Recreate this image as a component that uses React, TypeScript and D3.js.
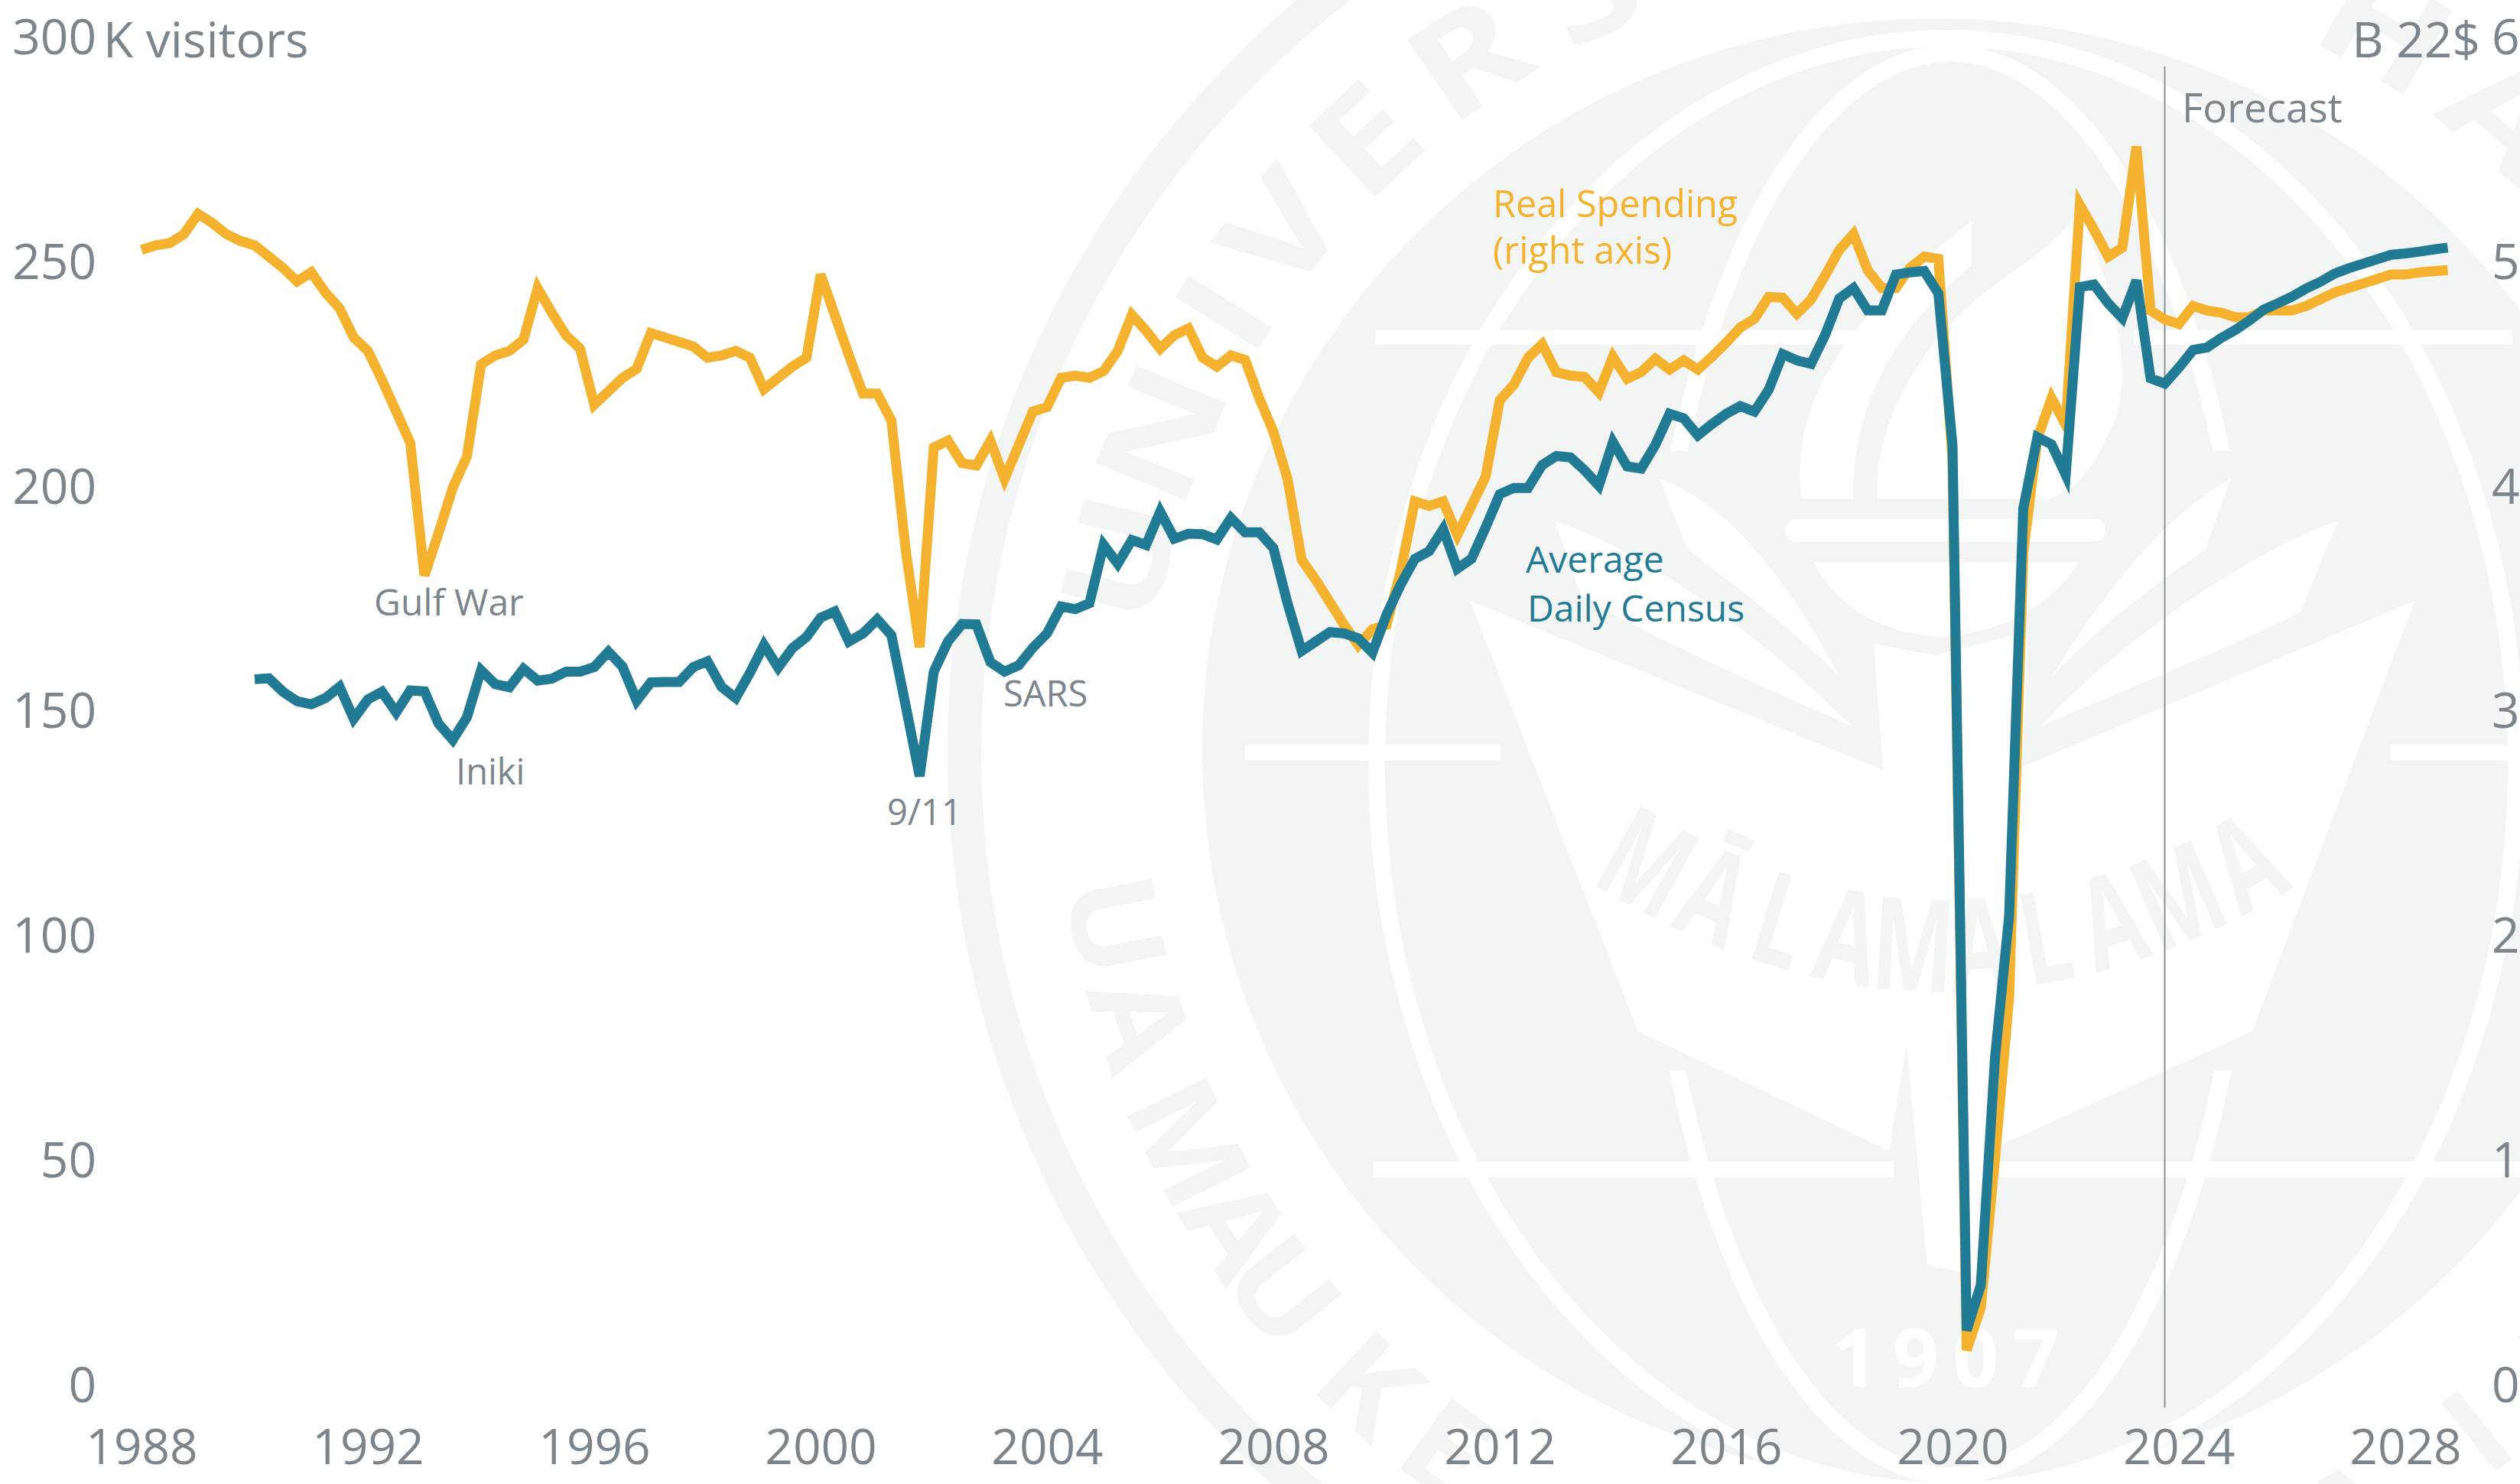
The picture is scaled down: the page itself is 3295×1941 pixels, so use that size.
import React, { useEffect, useRef } from "react";
import * as d3 from "d3";

const W = 3295;
const H = 1941;

const GOLD = "#f4b22f";
const TEAL = "#227b94";
const GREY = "#7c858b";
const WASH = "#f3f5f4";
const FONT = "'Open Sans', sans-serif";

// quarterly, 1988 Q1 through 2028 Q4 (billions of 2022 $, right axis)
const spending = [
  5.05, 5.07, 5.08, 5.12, 5.21, 5.17, 5.12, 5.09, 5.07, 5.02,
  4.97, 4.91, 4.95, 4.86, 4.79, 4.66, 4.6, 4.47, 4.33, 4.19,
  3.6, 3.79, 3.99, 4.13, 4.54, 4.58, 4.6, 4.65, 4.88, 4.77,
  4.67, 4.61, 4.36, 4.42, 4.48, 4.52, 4.68, 4.66, 4.64, 4.62,
  4.57, 4.58, 4.6, 4.57, 4.43, 4.48, 4.53, 4.57, 4.94, 4.76,
  4.58, 4.41, 4.41, 4.29, 3.72, 3.28, 4.17, 4.2, 4.1, 4.09,
  4.2, 4.03, 4.18, 4.33, 4.35, 4.48, 4.49, 4.48, 4.51, 4.6,
  4.76, 4.69, 4.61, 4.67, 4.7, 4.57, 4.53, 4.58, 4.56, 4.39,
  4.24, 4.03, 3.67, 3.58, 3.48, 3.38, 3.29, 3.36, 3.38, 3.62,
  3.93, 3.91, 3.93, 3.78, 3.91, 4.04, 4.38, 4.45, 4.57, 4.63,
  4.505, 4.49, 4.484, 4.416, 4.574, 4.476, 4.506, 4.565, 4.517, 4.558,
  4.517, 4.574, 4.637, 4.704, 4.743, 4.84, 4.837, 4.766, 4.829, 4.936,
  5.05, 5.12, 4.96, 4.88, 4.88, 4.97, 5.02, 5.01, 4.11, 0.15,
  0.34, 1.0, 1.72, 3.7, 4.21, 4.39, 4.27, 5.25, 5.14, 5.02,
  5.06, 5.51, 4.78, 4.74, 4.72, 4.8, 4.78, 4.77, 4.75, 4.75,
  4.78, 4.78, 4.78, 4.8, 4.83, 4.86, 4.88, 4.9, 4.92, 4.94,
  4.94, 4.95, 4.955, 4.96,
];

// quarterly, 1990 Q1 through 2028 Q4 (thousand visitors, left axis)
const census = [
  156.9, 157.1, 154.1, 152, 151.3, 152.7, 155.2, 148.1, 152.4, 154.1,
  149.5, 154.4, 154.2, 147, 143.4, 148.4, 158.9, 155.8, 155.1, 159.2,
  156.6, 157, 158.6, 158.6, 159.6, 163, 159.7, 152.1, 156.2, 156.3,
  156.3, 159.6, 160.9, 155.2, 152.7, 158.3, 164.5, 159.5, 163.8, 166.3,
  170.6, 172, 165.3, 167.1, 170.2, 166.7, 151.2, 135.3, 158.6, 165.3,
  169.2, 169.1, 160.7, 158.6, 160, 163.9, 167.1, 173.1, 172.5, 173.8,
  186.8, 182.6, 187.9, 186.8, 194.2, 188.2, 189.3, 189.2, 188, 192.8,
  189.6, 189.6, 186.1, 173.8, 163.2, 165.3, 167.4, 167.1, 166, 162.8,
  171.3, 178, 183.7, 185.4, 190.3, 181.5, 183.7, 190.7, 198.1, 199.5,
  199.5, 204.6, 206.6, 206.3, 203.4, 200, 209.7, 204.3, 203.8, 209.1,
  216, 215, 211.2, 213.7, 216, 217.7, 216.5, 221.3, 229.3, 227.9,
  227.1, 233.6, 241.7, 244, 239, 239, 247, 247.5, 247.8, 242.8,
  209, 11.9, 22, 72.5, 104.2, 194.9, 210.8, 209.2, 202.4, 244.2,
  244.8, 240.6, 237.3, 245.7, 223.9, 222.7, 226.3, 230.2, 230.8, 232.9,
  234.7, 236.8, 239.2, 240.6, 242.1, 243.9, 245.4, 247.2, 248.4, 249.4,
  250.4, 251.4, 251.7, 252.1, 252.6, 253,
];

const yearTicks = [1988, 1992, 1996, 2000, 2004, 2008, 2012, 2016, 2020, 2024, 2028];
const leftTicks = [0, 50, 100, 150, 200, 250, 300];
const rightTicks = [0, 1, 2, 3, 4, 5, 6];
const forecastStart = 2023.75;

// event and series labels
const notes = [
  { text: "Gulf War", x: 489, y: 805, size: 48, fill: GREY },
  { text: "Iniki", x: 596, y: 1026, size: 47, fill: GREY },
  { text: "9/11", x: 1160, y: 1079, size: 47, fill: GREY },
  { text: "SARS", x: 1312, y: 924, size: 47, fill: GREY },
  { text: "Forecast", x: 2853, y: 160, size: 53, fill: GREY },
  { text: "Real Spending", x: 1952, y: 284, size: 48.5, fill: GOLD },
  { text: "(right axis)", x: 1952, y: 345, size: 48.5, fill: GOLD },
  { text: "Average", x: 1995, y: 749, size: 48, fill: TEAL },
  { text: "Daily Census", x: 1997, y: 813, size: 48, fill: TEAL },
];

// seal lettering: degrees round the ring, measured from due left
const sealTopLetters = [
  ["U", 14], ["N", 22.8], ["I", 31.9], ["V", 38.6], ["E", 46.9], ["R", 55.7], ["S", 65.1],
  ["H", 120.6], ["A", 130.6],
] as const;
const sealBottomLetters = [
  ["U", 10.9], ["A", 17.6], ["M", 26.4], ["A", 33], ["U", 38.3], ["K", 46.9], ["E", 53.6],
  ["A", 118], ["I", 128.3], ["K", 137],
] as const;
const sealBookLetters = "MĀLAMALAMA".split("");

function RingLetter({ ch, angle, r, top }: { ch: string; angle: number; r: number; top: boolean }) {
  const rad = (angle * Math.PI) / 180;
  const px = 2550 - r * Math.cos(rad);
  const py = top ? 1000 - r * Math.sin(rad) : 1000 + r * Math.sin(rad);
  const rot = top ? angle - 90 : 90 - angle;
  const stretch = top ? 1.22 : 1.08;
  return (
    <text
      transform={`translate(${px},${py}) rotate(${rot}) scale(${stretch},1)`}
      textAnchor="middle"
      fill={WASH}
      fontFamily={FONT}
      fontWeight={700}
      fontSize={top ? 178 : 160}
    >
      {ch}
    </text>
  );
}

// the faint university seal behind the chart
function Seal() {
  // book title sags along a shallow curve
  const bookX = d3.scaleLinear().domain([0, sealBookLetters.length - 1]).range([2125, 2965]);
  const bookY = (px: number) => 1172 + 125 * (1 - ((px - 2545) / 435) ** 2);
  return (
    <g>
      <defs>
        <clipPath id="meridianClip">
          <rect x={0} y={0} width={W} height={590} />
          <rect x={0} y={1400} width={W} height={H - 1400} />
        </clipPath>
      </defs>
      <circle cx={2530} cy={985} r={1269} fill="none" stroke={WASH} strokeWidth={44} />
      <circle cx={2530} cy={982} r={958} fill={WASH} />
      {sealTopLetters.map(([ch, a], i) => (
        <RingLetter key={"t" + i} ch={ch} angle={a} r={1056} top />
      ))}
      {sealBottomLetters.map(([ch, a], i) => (
        <RingLetter key={"b" + i} ch={ch} angle={a} r={1168} top={false} />
      ))}
      <ellipse cx={2545} cy={1000} rx={745} ry={950} fill="none" stroke="#fff" strokeWidth={22} />
      <ellipse cx={2550} cy={1000} rx={395} ry={930} fill="none" stroke="#fff" strokeWidth={22} clipPath="url(#meridianClip)" />
      <g fill="#fff">
        <rect x={1798} y={432} width={642} height={19} />
        <rect x={2790} y={432} width={495} height={19} />
        <rect x={1628} y={974} width={334} height={21} />
        <rect x={3125} y={974} width={170} height={21} />
        <rect x={1796} y={1519} width={680} height={21} />
        <rect x={2590} y={1519} width={705} height={21} />
      </g>
      <path
        fill="#fff"
        d="M1922,786 L2462,1007 L2450,842 L2530,857 L2652,826 L2644,1003 L3157,786 L2945,1349 L2600,1505 L2585,1668 L2520,1655 L2493,1366 L2470,1505 L2142,1349 Z"
      />
      {/* torch and leaves, traced at the 1.211x crop scale */}
      <g transform="translate(2000,0) scale(0.8258)" fill="#fff">
        <path d="M205,758 C300,790 400,900 490,1070 C430,1010 330,930 250,870 Z" />
        <path d="M40,825 C200,880 380,1020 510,1150 C350,1080 150,990 80,940 Z" />
        <path d="M1110,758 L1070,870 C1000,920 900,990 825,1075 C900,950 1000,820 1110,758 Z" />
        <path d="M1280,825 L1220,970 C1100,1030 900,1110 810,1150 C900,1050 1100,890 1280,825 Z" />
        <rect x={405} y={822} width={507} height={36} rx={18} />
        <path d="M430,790 C415,650 480,520 700,350 L700,420 C580,520 510,640 512,790 Z" />
        <path d="M550,790 C545,690 600,570 700,480 C760,430 850,380 870,330 C930,480 960,600 920,680 C890,750 860,780 820,790 Z" />
        <path d="M450,890 L870,890 C820,970 730,1005 650,1008 C570,1005 490,970 450,890 Z" fill="#fff" />
      </g>
      {sealBookLetters.map((ch, i) => {
        const px = bookX(i);
        const py = bookY(px);
        const slope = (-125 * 2 * (px - 2545)) / (435 * 435);
        const rot = (Math.atan(slope) * 180) / Math.PI;
        return (
          <text
            key={"m" + i}
            transform={`translate(${px},${py}) rotate(${rot}) scale(0.68,1)`}
            textAnchor="middle"
            fill={WASH}
            fontFamily={FONT}
            fontWeight={700}
            fontSize={168}
          >
            {ch}
          </text>
        );
      })}
      <text x={2553} y={1814} textAnchor="middle" fill="#fff" fontFamily={FONT} fontWeight={700} fontSize={106} letterSpacing={18}>1907</text>
    </g>
  );
}

export default function App() {
  const chartRef = useRef<SVGGElement>(null);

  useEffect(() => {
    const x = d3.scaleLinear().domain([1988, 2029]).range([185, 3219]);
    const yLeft = d3.scaleLinear().domain([0, 300]).range([1810, 47.8]);
    const yRight = d3.scaleLinear().domain([0, 6]).range([1810, 47.8]);

    const g = d3.select(chartRef.current);
    g.selectAll("*").remove();

    const tidy = (axis: any) => {
      axis.select(".domain").remove();
      axis.selectAll("text").attr("fill", GREY).style("font-family", FONT).style("font-size", "64px");
    };

    g.append("g").attr("transform", "translate(126,0)")
      .call(d3.axisLeft(yLeft).tickValues(leftTicks).tickSize(0).tickPadding(0) as any)
      .call(tidy)
      .selectAll("text").attr("dy", "0.36em");

    g.append("g").attr("transform", "translate(3258,0)")
      .call(d3.axisRight(yRight).tickValues(rightTicks).tickSize(0).tickPadding(0) as any)
      .call(tidy)
      .selectAll("text").attr("dy", "0.36em");

    g.append("g").attr("transform", "translate(0,1915)")
      .call(d3.axisBottom(x).tickValues(yearTicks).tickSize(0).tickPadding(0).tickFormat(d3.format("d")) as any)
      .call(tidy)
      .selectAll("text").attr("y", 0).attr("dy", 0);

    g.append("line")
      .attr("x1", x(forecastStart)).attr("x2", x(forecastStart))
      .attr("y1", 87).attr("y2", 1841)
      .attr("stroke", "#8b9298").attr("stroke-width", 2);

    const drawLine = (values: number[], startYear: number, y: any, color: string) => {
      const line = d3.line<number>()
        .x((_, i) => x(startYear + i / 4))
        .y((d) => y(d));
      g.append("path")
        .attr("d", line(values))
        .attr("fill", "none")
        .attr("stroke", color)
        .attr("stroke-width", 13);
    };
    drawLine(spending, 1988, yRight, GOLD);
    drawLine(census, 1990, yLeft, TEAL);

    g.selectAll(".note")
      .data(notes)
      .join("text")
      .attr("class", "note")
      .attr("x", (d) => d.x)
      .attr("y", (d) => d.y)
      .attr("fill", (d) => d.fill)
      .style("font-family", FONT)
      .style("font-size", (d) => d.size + "px")
      .text((d) => d.text);

    g.append("text").attr("x", 135).attr("y", 75).attr("fill", GREY)
      .style("font-family", FONT).style("font-size", "64px").text("K visitors");
    g.append("text").attr("x", 3243).attr("y", 75).attr("text-anchor", "end").attr("fill", GREY)
      .style("font-family", FONT).style("font-size", "64px").text("B 22$");
  }, []);

  return (
    <svg width={W} height={H} viewBox={`0 0 ${W} ${H}`} style={{ position: "absolute", left: 0, top: 0, background: "#fff" }}>
      <Seal />
      <g ref={chartRef} />
    </svg>
  );
}
